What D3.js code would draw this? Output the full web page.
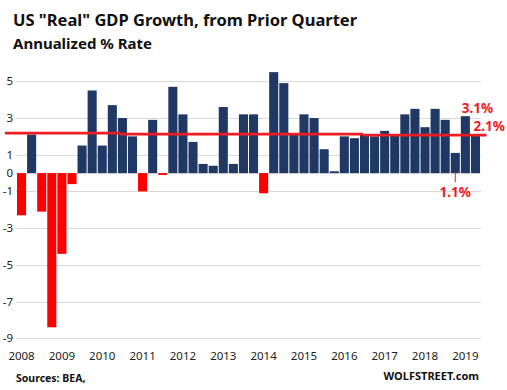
<!DOCTYPE html>
<html>
<head>
<meta charset="utf-8">
<script src="https://cdn.jsdelivr.net/npm/d3@7"></script>
<style>
  body { margin: 0; background: #fff; }
  text { font-family: "Noto Sans", sans-serif; }
</style>
</head>
<body>
<div id="chart"></div>
<script>
// quarters 2008 Q1 .. 2019 Q2
var years = ["2008","2009","2010","2011","2012","2013","2014","2015","2016","2017","2018","2019"];
var quarters = [];
years.forEach(function(y) {
  ["Q1","Q2","Q3","Q4"].forEach(function(q) {
    if (!(y === "2019" && (q === "Q3" || q === "Q4"))) quarters.push(y + q);
  });
});

// annualized % growth
var growth = [
  -2.3, 2.1, -2.1, -8.4,
  -4.4, -0.6, 1.5, 4.5,
   1.5, 3.7, 3.0, 2.0,
  -1.0, 2.9, -0.1, 4.7,
   3.2, 1.7, 0.5, 0.4,
   3.6, 0.5, 3.2, 3.2,
  -1.1, 5.5, 4.9, 2.1,
   3.2, 3.0, 1.3, 0.1,
   2.0, 1.9, 2.1, 2.0,
   2.3, 2.1, 3.2, 3.5,
   2.5, 3.5, 2.9, 1.1,
   3.1, 2.1
];

var yTicks = [5, 3, 1, 0, -1, -3, -5, -7, -9];

// average line, drawn in steps (from quarter, to quarter, value)
var avgFrom = [-1.2, 10.23, 34.33];
var avgTo = [10.23, 34.33, 46.55];
var avgVal = [2.18, 2.125, 2.07];

// callouts
var calloutText = ["3.1%", "2.1%", "1.1%"];

var W = 507, H = 390;
var svg = d3.select("#chart").append("svg")
    .attr("width", W)
    .attr("height", H);

var x = d3.scaleBand()
    .domain(quarters)
    .range([16.5, 480.5])
    .paddingInner(0.1)
    .paddingOuter(0.05);

var y = d3.scaleLinear()
    .domain([-9, 5])
    .range([338.3, 81.3]);

// position of a (fractional) quarter index
function xq(i) { return x(quarters[0]) + i * x.step(); }

// gridlines
svg.append("g")
  .selectAll("line")
  .data(yTicks)
  .enter().append("line")
    .attr("x1", 16)
    .attr("x2", 481)
    .attr("y1", function(d) { return Math.round(y(d)) + 0.5; })
    .attr("y2", function(d) { return Math.round(y(d)) + 0.5; })
    .attr("stroke", "#d9d9d9")
    .attr("stroke-width", 1);

// y labels
svg.append("g")
  .selectAll("text")
  .data(yTicks)
  .enter().append("text")
    .attr("x", 13)
    .attr("y", function(d) { return y(d) + 4; })
    .attr("text-anchor", "end")
    .style("font-size", "11.5px")
    .attr("fill", "#222")
    .text(function(d) { return d; });

// bars
svg.append("g")
  .selectAll("rect")
  .data(growth)
  .enter().append("rect")
    .attr("x", function(d, i) { return x(quarters[i]); })
    .attr("width", x.bandwidth())
    .attr("y", function(d) { return y(Math.max(0, d)); })
    .attr("height", function(d) { return Math.abs(y(d) - y(0)); })
    .attr("fill", function(d) { return d < 0 ? "#ff0000" : "#203864"; });

// year labels under Q1 bars
svg.append("g")
  .selectAll("text")
  .data(years)
  .enter().append("text")
    .attr("x", function(d) { return x(d + "Q1") + x.bandwidth() / 2; })
    .attr("y", 360)
    .attr("text-anchor", "middle")
    .style("font-size", "11.5px")
    .attr("fill", "#222")
    .text(function(d) { return d; });

// average line
svg.append("g")
  .selectAll("line")
  .data(avgVal)
  .enter().append("line")
    .attr("x1", function(d, i) { return xq(avgFrom[i]); })
    .attr("x2", function(d, i) { return xq(avgTo[i]); })
    .attr("y1", function(d) { return y(d); })
    .attr("y2", function(d) { return y(d); })
    .attr("stroke", "#ee1c25")
    .attr("stroke-width", 2.8);

// callouts
var red = "#ee1c25";
var i31 = quarters.indexOf("2019Q1"), i21 = quarters.indexOf("2019Q2"), i11 = quarters.indexOf("2018Q4");
svg.append("text")
    .attr("x", x(quarters[i31]) + x.bandwidth() / 2 + 12)
    .attr("y", 113)
    .attr("text-anchor", "middle")
    .attr("font-weight", "bold")
    .style("font-size", "13.5px")
    .attr("fill", red)
    .text(calloutText[0]);
svg.append("text")
    .attr("x", x(quarters[i21]) + 2.5)
    .attr("y", 131)
    .attr("font-weight", "bold")
    .style("font-size", "13.5px")
    .attr("fill", red)
    .text(calloutText[1]);
svg.append("line")
    .attr("x1", x(quarters[i11]) + x.bandwidth() / 2)
    .attr("x2", x(quarters[i11]) + x.bandwidth() / 2)
    .attr("y1", y(0) - 1)
    .attr("y2", y(0) + 9)
    .attr("stroke", red)
    .attr("stroke-width", 1);
svg.append("text")
    .attr("x", x(quarters[i11]) + x.bandwidth() / 2)
    .attr("y", 197)
    .attr("text-anchor", "middle")
    .attr("font-weight", "bold")
    .style("font-size", "13.5px")
    .attr("fill", red)
    .text(calloutText[2]);

// titles
svg.append("text")
    .attr("x", 13)
    .attr("y", 26)
    .attr("font-weight", "bold")
    .style("font-size", "16.5px")
    .attr("fill", "#111")
    .text('US "Real" GDP Growth, from Prior Quarter');
svg.append("text")
    .attr("x", 13)
    .attr("y", 49)
    .attr("font-weight", "bold")
    .style("font-size", "15px")
    .attr("fill", "#111")
    .text("Annualized % Rate");

// footer
svg.append("text")
    .attr("x", 16)
    .attr("y", 382)
    .attr("font-weight", "bold")
    .style("font-size", "10.5px")
    .attr("fill", "#111")
    .text("Sources: BEA,");
svg.append("text")
    .attr("x", 479)
    .attr("y", 380)
    .attr("text-anchor", "end")
    .attr("font-weight", "bold")
    .style("font-size", "11px")
    .attr("fill", "#111")
    .text("WOLFSTREET.com");
</script>
</body>
</html>
